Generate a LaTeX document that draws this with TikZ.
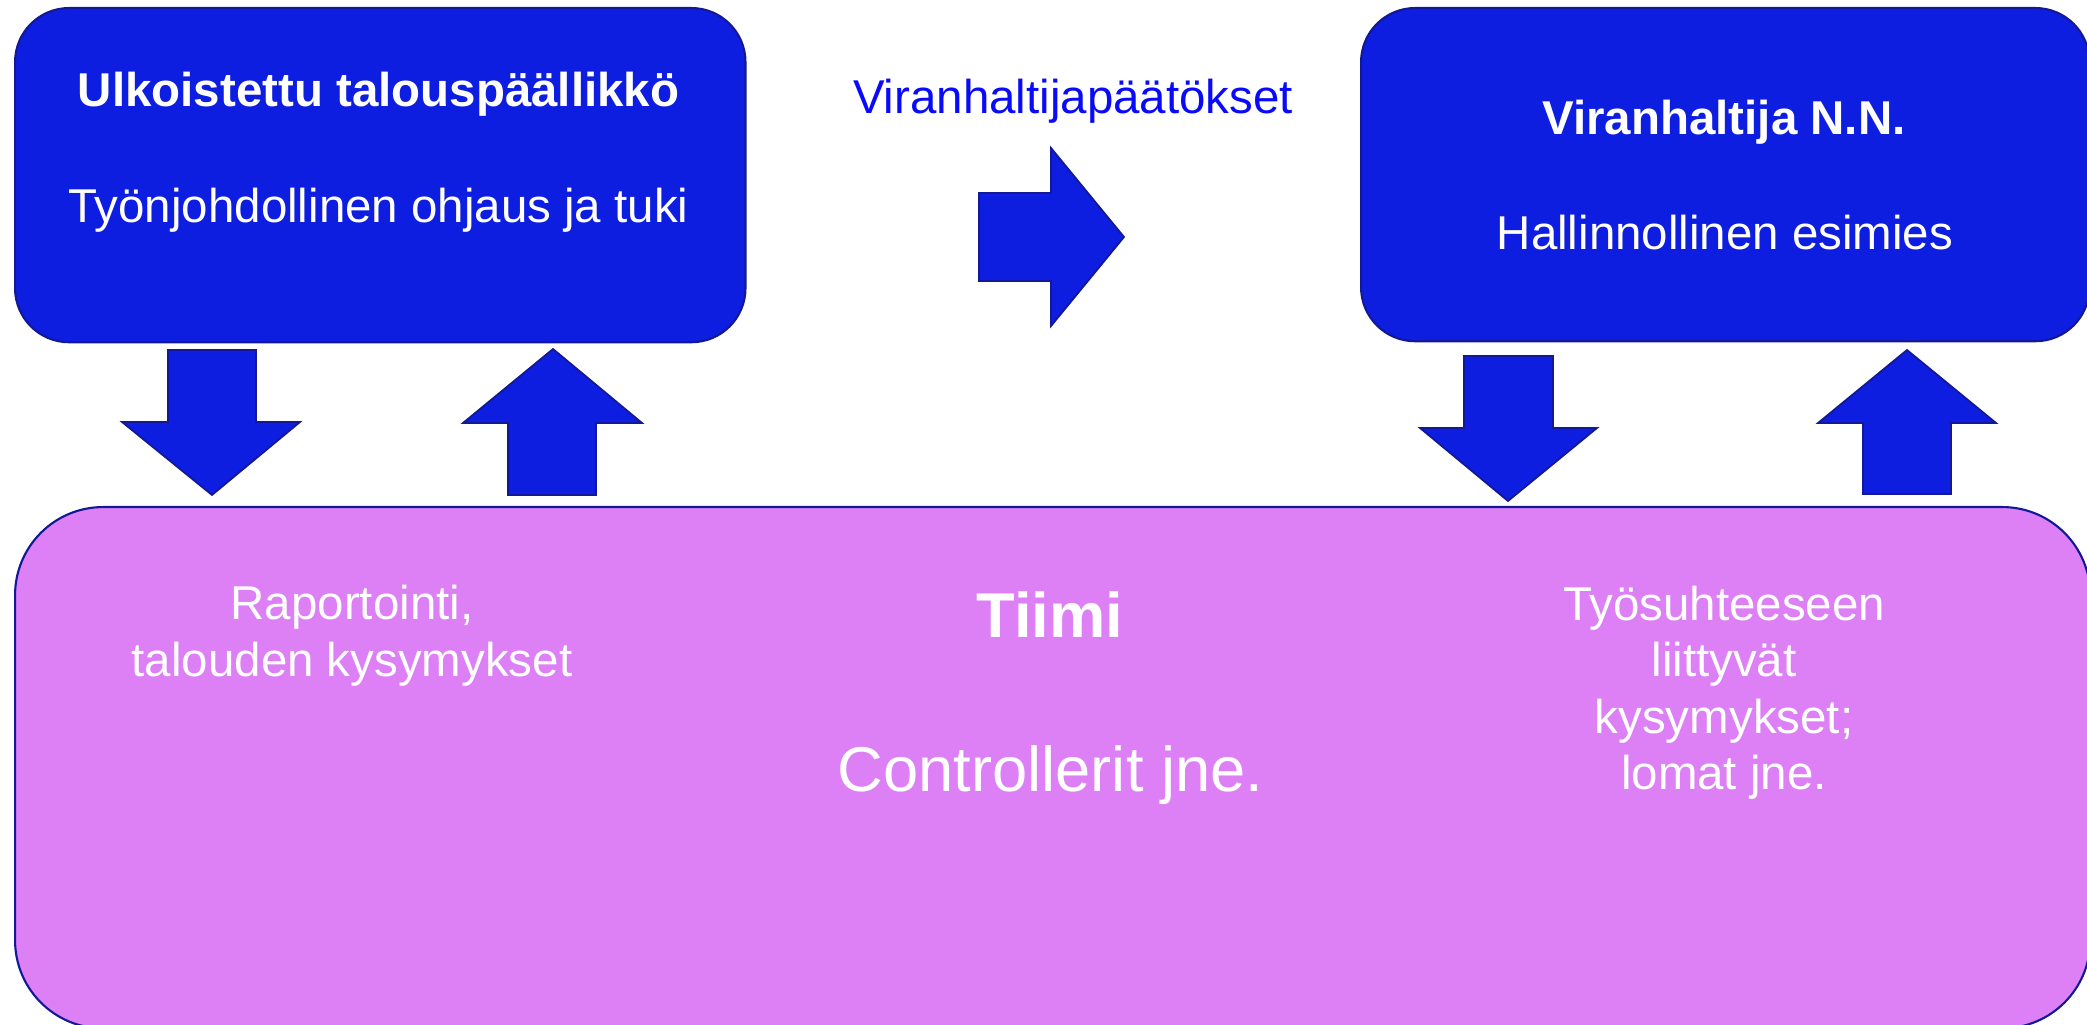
\documentclass[tikz,border=0pt]{standalone}
\usepackage{fontspec}
\setmainfont{Liberation Sans}
\definecolor{boxblue}{RGB}{14,30,224}
\definecolor{edgeblue}{RGB}{18,24,150}
\definecolor{teampurple}{RGB}{221,128,245}
\definecolor{labelblue}{RGB}{10,10,250}
\tikzset{
  bigbox/.style={draw=edgeblue, line width=0.6pt, fill=boxblue,
    rounded corners=0.54cm, inner sep=0pt, anchor=north west},
  teambox/.style={bigbox, fill=teampurple, rounded corners=0.88cm},
  blockarrow/.style={draw=edgeblue, line width=0.5pt, fill=boxblue},
  boxtext/.style={text=white, font=\fontsize{13.5}{16.1}\selectfont,
    inner sep=0pt, anchor=base, align=center},
  boxtitle/.style={boxtext, font=\fontsize{13.5}{16.1}\selectfont\bfseries},
}

\begin{document}
\begin{tikzpicture}[x=0.01cm,y=-0.01cm]
\useasboundingbox (0,0) rectangle (2087,1025);
\clip (0,0) rectangle (2087,1025);
% boxes
\node[bigbox, minimum width=7.30cm, minimum height=3.34cm] (chief) at (14,7) {};
\node[bigbox, minimum width=7.28cm, minimum height=3.33cm] (officer) at (1360,7) {};
\node[teambox, minimum width=20.74cm, minimum height=5.21cm] (team) at (14,506) {};
% block arrows
\draw[blockarrow] (168,350) -- (256,350) -- (256,422) -- (300,422) -- (212,495)
      -- (122,422) -- (168,422) -- cycle;
\draw[blockarrow] (553,349) -- (642,423) -- (596,423) -- (596,495) -- (508,495)
      -- (508,423) -- (463,423) -- cycle;
\draw[blockarrow] (979,193) -- (1051,193) -- (1051,148) -- (1124,237) -- (1051,326)
      -- (1051,281) -- (979,281) -- cycle;
\draw[blockarrow] (1464,356) -- (1553,356) -- (1553,428) -- (1597,428) -- (1508,501)
      -- (1420,428) -- (1464,428) -- cycle;
\draw[blockarrow] (1907,350) -- (1996,423) -- (1951,423) -- (1951,494) -- (1863,494)
      -- (1863,423) -- (1818,423) -- cycle;
% texts (multi-line nodes sit on their last baseline)
\node[boxtitle] (chieftitle) at (378.5,107) {Ulkoistettu talouspäällikkö};
\node[boxtext] (chiefrole) at (378.5,222.5) {Työnjohdollinen ohjaus ja tuki};
\node[boxtitle] (officertitle) at (1724,135) {Viranhaltija N.N.};
\node[boxtext] (officerrole) at (1725,249.5) {Hallinnollinen esimies};
\node[boxtext, text=labelblue] (decisions) at (1073,114) {Viranhaltijapäätökset};
\node[boxtext] (reporting) at (352,676.5) {Raportointi,\\talouden kysymykset};
\node[boxtitle, font=\fontsize{18}{21.6}\selectfont\bfseries] (teamtitle) at (1050,638) {Tiimi};
\node[boxtext, font=\fontsize{18}{21.6}\selectfont] (teamtext) at (1050.5,792) {Controllerit jne.};
\node[boxtext] (hrissues) at (1724,790) {Työsuhteeseen\\liittyvät\\kysymykset;\\lomat jne.};
\end{tikzpicture}
\end{document}
